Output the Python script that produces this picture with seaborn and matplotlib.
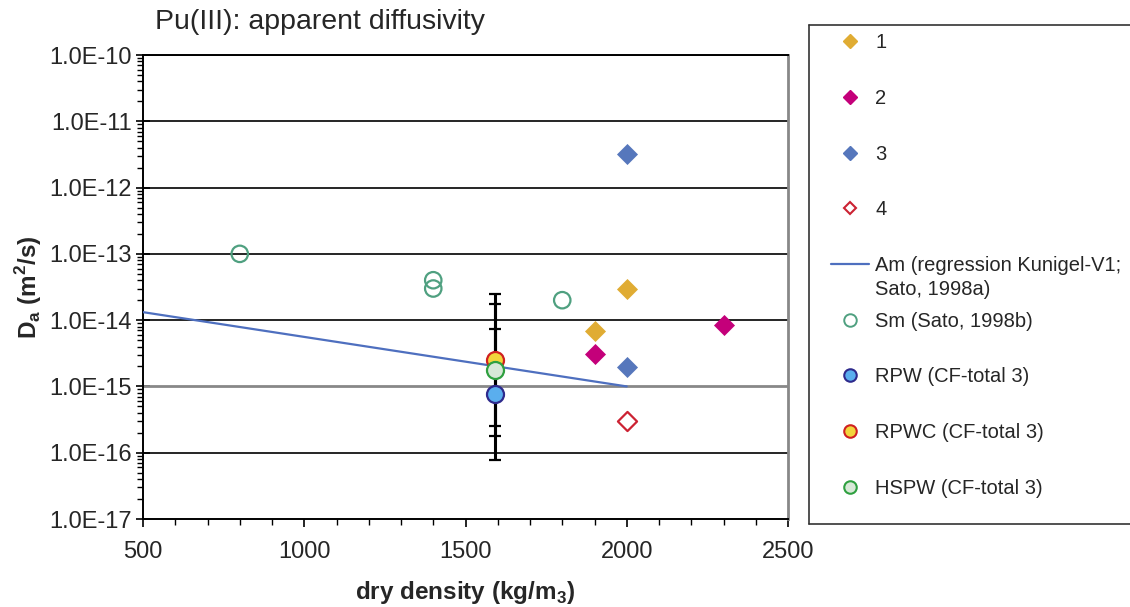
import numpy as np
import pandas as pd
import matplotlib
matplotlib.use("Agg")
import matplotlib.pyplot as plt
import matplotlib.ticker as mticker
from matplotlib.lines import Line2D
import seaborn as sns

# ---------------- data ----------------
s1_x = [1900, 2000]
s1_y = [6.8e-15, 3.0e-14]
s2_x = [1900, 2300]
s2_y = [3.1e-15, 8.4e-15]
s3_x = [2000, 2000]
s3_y = [3.2e-12, 1.95e-15]
s4_x = [2000]
s4_y = [3.0e-16]
am_x = [500, 2000]
am_y = [1.32e-14, 1.0e-15]
sm_x = [800, 1400, 1400, 1800]
sm_y = [1.0e-13, 4.0e-14, 3.0e-14, 2.0e-14]
cf_x = [1590, 1590, 1590]
cf_names = ["RPW (CF-total 3)", "RPWC (CF-total 3)", "HSPW (CF-total 3)"]
cf_y = [7.6e-16, 2.5e-15, 1.8e-15]
cf_lo = [7.7e-17, 2.56e-16, 1.8e-16]
cf_hi = [7.3e-15, 2.44e-14, 1.73e-14]

y_ticks = [1e-17, 1e-16, 1e-15, 1e-14, 1e-13, 1e-12, 1e-11, 1e-10]
x_ticks = [500, 1000, 1500, 2000, 2500]

# ---------------- style ----------------
sns.set_theme(style="white")
plt.rcParams["font.family"] = ["Liberation Sans", "DejaVu Sans"]
plt.rcParams["mathtext.fontset"] = "custom"
plt.rcParams["mathtext.rm"] = "Liberation Sans"
plt.rcParams["mathtext.bf"] = "Liberation Sans:bold"

W, H = 1130, 607
fig = plt.figure(figsize=(W / 100, H / 100), dpi=100)
ax = fig.add_axes([143 / W, 1 - 519 / H, (788 - 143) / W, (519 - 55) / H])

c_gold = "#E0AC33"
c_mag = "#C4007A"
c_blue = "#5677BC"
c_red = "#CC2233"
c_am = "#4E6FBF"
c_sm = "#4FA080"
cf_face = ["#5AAEEE", "#F2D53C", "#D8E8D8"]
cf_edge = ["#2E2A8C", "#D02020", "#2FA040"]

# regression line
sns.lineplot(x=am_x, y=am_y, ax=ax, color=c_am, linewidth=1.6, zorder=3)

# error bars
yerr = np.array([np.array(cf_y) - np.array(cf_lo), np.array(cf_hi) - np.array(cf_y)])
ax.errorbar(cf_x, cf_y, yerr=yerr, fmt="none", ecolor="black", elinewidth=2.2,
            capsize=4.5, capthick=1.6, zorder=4)

# diamonds
sns.scatterplot(x=s1_x, y=s1_y, marker="D", s=115, color=c_gold, edgecolor=c_gold, linewidth=0, ax=ax, zorder=5)
sns.scatterplot(x=s2_x, y=s2_y, marker="D", s=115, color=c_mag, edgecolor=c_mag, linewidth=0, ax=ax, zorder=5)
sns.scatterplot(x=s3_x, y=s3_y, marker="D", s=115, color=c_blue, edgecolor=c_blue, linewidth=0, ax=ax, zorder=5)
sns.scatterplot(x=s4_x, y=s4_y, marker="D", s=95, facecolor="white", edgecolor=c_red, linewidth=1.6, ax=ax, zorder=5)

# Sato circles
sns.scatterplot(x=sm_x, y=sm_y, marker="o", s=140, facecolor="none", edgecolor=c_sm, linewidth=1.6, ax=ax, zorder=5)

# CF-total circles
for i in [0, 1, 2]:
    sns.scatterplot(x=[cf_x[i]], y=[cf_y[i]], marker="o", s=150, facecolor=cf_face[i],
                    edgecolor=cf_edge[i], linewidth=1.6, ax=ax, zorder=6 + i)

# ---------------- axes ----------------
ax.set_yscale("log")
ax.set_xlim(500, 2500)
ax.set_ylim(1e-17, 1e-10)
ax.set_xticks(x_ticks)
ax.set_yticks(y_ticks)
ax.yaxis.set_major_formatter(mticker.FuncFormatter(lambda v, p: f"{v:.1E}"))
ax.yaxis.set_minor_locator(mticker.LogLocator(base=10, subs=np.arange(2, 10), numticks=50))
ax.yaxis.set_minor_formatter(mticker.NullFormatter())
ax.xaxis.set_minor_locator(mticker.MultipleLocator(100))

ax.tick_params(axis="both", which="major", direction="out", length=6, width=1.2,
               color="black", labelsize=17, left=True, bottom=True)
ax.tick_params(axis="both", which="minor", direction="out", length=4, width=1.0,
               color="black", left=True, bottom=True)
ax.tick_params(axis="y", which="major", direction="inout", length=10, pad=3)
ax.tick_params(axis="x", which="major", pad=10)

ax.grid(False)
for yv in y_ticks[1:]:
    ax.axhline(yv, color="#888888" if yv == 1e-15 else "black",
               linewidth=2.0 if yv == 1e-15 else 1.2, zorder=1)

for side in ["left", "bottom", "top"]:
    ax.spines[side].set_color("black")
    ax.spines[side].set_linewidth(1.4)
ax.spines["right"].set_color("#888888")
ax.spines["right"].set_linewidth(2.0)

ax.set_xlabel(r"dry density (kg/m$_\mathbf{3}$)", fontsize=17.5, fontweight="bold", labelpad=11)
ax.set_ylabel(r"D$_\mathbf{a}$ (m$^\mathbf{2}$/s)", fontsize=17.5, fontweight="bold", labelpad=4)

fig.text(155 / W, 1 - 22 / H, "Pu(III): apparent diffusivity", fontsize=20.5, va="center", ha="left")

# ---------------- legend frame (open on the right, running off the canvas) ----------------
x0, x1 = 809 / W, 1.0 + 0.01
yt, yb = 1 - 25 / H, 1 - 524 / H
fig.add_artist(Line2D([x0, x1], [yt, yt], transform=fig.transFigure, color="#333333", linewidth=1.2))
fig.add_artist(Line2D([x0, x1], [yb, yb], transform=fig.transFigure, color="#333333", linewidth=1.2))
fig.add_artist(Line2D([x0, x0], [yb, yt], transform=fig.transFigure, color="#333333", linewidth=1.2))

handles = [
    Line2D([], [], linestyle="none", marker="D", markersize=7.3, color=c_gold),
    Line2D([], [], linestyle="none", marker="D", markersize=7.3, color=c_mag),
    Line2D([], [], linestyle="none", marker="D", markersize=7.3, color=c_blue),
    Line2D([], [], linestyle="none", marker="D", markersize=6.3, markerfacecolor="white",
           markeredgecolor=c_red, markeredgewidth=1.5),
    Line2D([], [], color=c_am, linewidth=1.6),
    Line2D([], [], linestyle="none", marker="o", markersize=9, markerfacecolor="white",
           markeredgecolor=c_sm, markeredgewidth=1.4),
]
for i in range(3):
    handles.append(Line2D([], [], linestyle="none", marker="o", markersize=9,
                          markerfacecolor=cf_face[i], markeredgecolor=cf_edge[i], markeredgewidth=1.5))
labels = ["1", "2", "3", "4", "Am (regression Kunigel-V1;", "Sm (Sato, 1998b)"] + cf_names

leg = fig.legend(handles, labels, loc="upper left", bbox_to_anchor=(831 / W, 1 - 33.5 / H),
                 frameon=False, fontsize=14.5, handlelength=1.9, handletextpad=0.3,
                 labelspacing=1.82, borderpad=0, borderaxespad=0)

fig.canvas.draw()
# second line of the Am label, placed directly under the first line
am_text = leg.get_texts()[4]
bb = am_text.get_window_extent()
fig.text(bb.x0 / W, (bb.y0 - 24 + bb.height / 2) / H, "Sato, 1998a)", fontsize=14.5,
         ha="left", va="center")

fig.savefig("out.png", dpi=100)
